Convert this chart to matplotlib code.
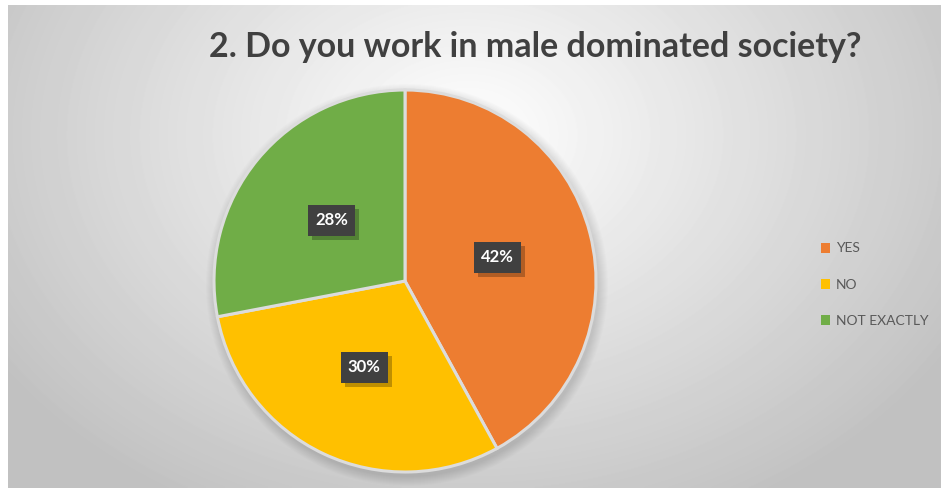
import numpy as np
import matplotlib
matplotlib.use('Agg')
import matplotlib.pyplot as plt
from matplotlib.patches import Circle, Rectangle

labels = ['YES', 'NO', 'NOT EXACTLY']
values = [42, 30, 28]
colors = ['#ED7D31', '#FFC000', '#70AD47']
title = '2. Do you work in male dominated society?'

W, H = 941, 488
fig = plt.figure(figsize=(W / 100, H / 100), dpi=100)

# background: radial grey gradient inside the chart frame
bg = fig.add_axes([8 / W, 0, 1 - 8 / W, 1 - 5 / H])
yy, xx = np.mgrid[0:483, 0:933]
d = np.sqrt(((xx - 460) / 560.0) ** 2 + ((yy - 130) / 420.0) ** 2)
shade = np.clip(1.0 - 0.24 * d, 0.76, 1.0)
bg.imshow(shade, cmap='gray', vmin=0, vmax=1, aspect='auto', interpolation='bilinear')
bg.axis('off')

# axes in pixel units (y measured upward)
ax = fig.add_axes([0, 0, 1, 1])
cx, cy, r = 405, H - 281, 191

# soft shadow around the pie
for k in range(10):
    ax.add_patch(Circle((cx + 2, cy - 4), r + 10 - k, color='black', alpha=0.012, lw=0, zorder=1))

wedges, _ = ax.pie(values, colors=colors, startangle=90, counterclock=False,
                   center=(cx, cy), radius=r, frame=True,
                   wedgeprops=dict(edgecolor='#dcdcdc', linewidth=2.2))
for w in wedges:
    w.set_zorder(2)
ax.set_xlim(0, W)
ax.set_ylim(0, H)
ax.set_aspect('equal')
ax.axis('off')

# data labels in dark boxes with a drop shadow
bw, bh = 47, 31
start = 90.0
total = float(sum(values))
for v in values:
    span = 360.0 * v / total
    mid = np.deg2rad(start - span / 2)
    lx = cx + 0.5 * r * np.cos(mid)
    ly = cy + 0.5 * r * np.sin(mid)
    ax.add_patch(Rectangle((lx - bw / 2 + 4, ly - bh / 2 - 4), bw, bh, facecolor='black',
                           alpha=0.25, lw=0, zorder=3))
    ax.add_patch(Rectangle((lx - bw / 2, ly - bh / 2), bw, bh, facecolor='#404040',
                           lw=0, zorder=4))
    ax.text(lx, ly, f'{v}%', ha='center', va='center', fontsize=12, fontweight='bold',
            color='white', family='Lato', zorder=5)
    start -= span

fig.text(535 / W, 1 - 47 / H, title, ha='center', va='center', fontsize=24.5,
         fontweight='bold', color='#404040', family='Lato')

leg = ax.legend(wedges, labels, loc='upper left', bbox_to_anchor=(808 / W, 1 - 230 / H),
                bbox_transform=fig.transFigure, frameon=False,
                handlelength=0.7, handleheight=0.7, handletextpad=0.4, labelspacing=1.75,
                prop={'family': 'Lato', 'size': 10})
for t in leg.get_texts():
    t.set_color('#595959')
for h in leg.legend_handles:
    h.set_edgecolor('none')

fig.savefig('out.png', dpi=100)
